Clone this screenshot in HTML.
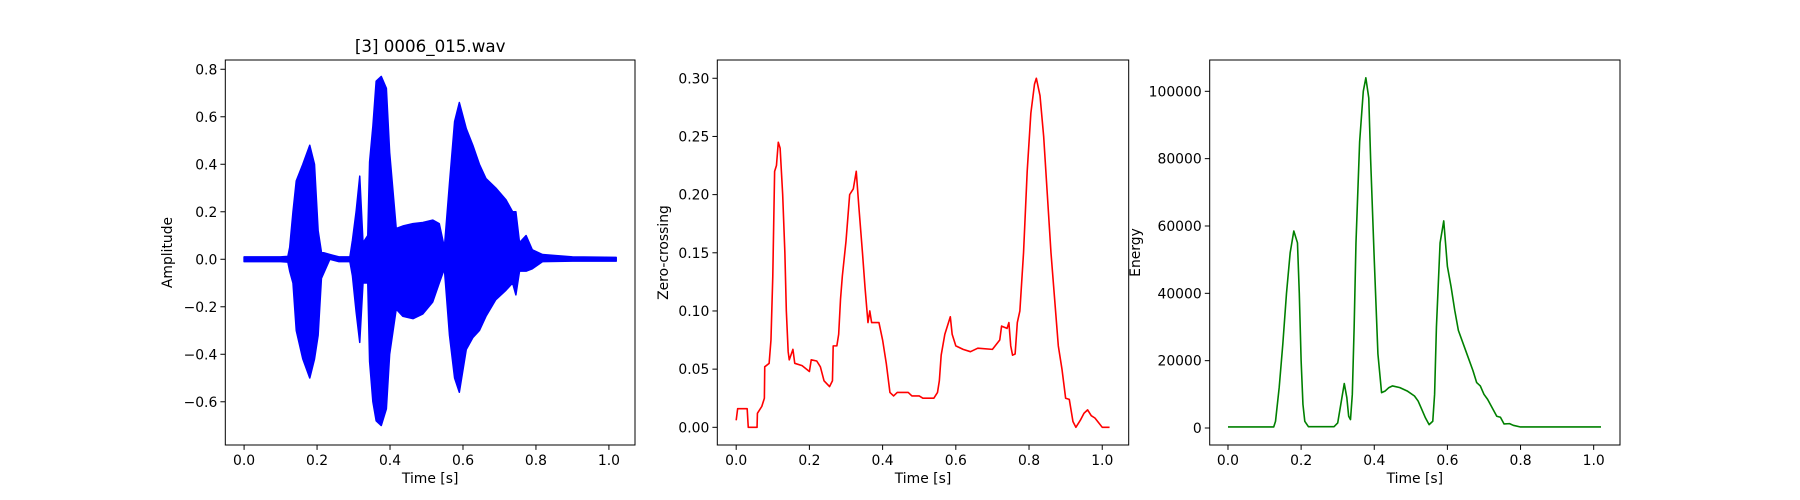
<!DOCTYPE html>
<html><head><meta charset="utf-8"><style>
html,body{margin:0;padding:0;background:#fff;}
svg{display:block;font-family:"DejaVu Sans","Liberation Sans",sans-serif;}
</style></head><body>
<svg id="fig" width="1800" height="500" xmlns="http://www.w3.org/2000/svg"></svg>
<script>
// Waveform envelope
const waveT = [0,0.05,0.1,0.12,0.125,0.134,0.143,0.161,0.18,0.193,0.203,0.212,0.235,0.26,0.29,0.297,0.307,0.317,0.326,0.339,0.344,0.353,0.362,0.376,0.39,0.399,0.417,0.435,0.463,0.49,0.517,0.535,0.549,0.563,0.577,0.59,0.609,0.627,0.645,0.663,0.69,0.718,0.736,0.745,0.755,0.773,0.79,0.818,0.9,1.02];
const waveUpper = [0.01,0.01,0.01,0.012,0.05,0.2,0.33,0.4,0.48,0.4,0.12,0.03,0.02,0.01,0.01,0.08,0.2,0.35,0.07,0.1,0.41,0.56,0.75,0.77,0.72,0.45,0.13,0.14,0.15,0.155,0.165,0.15,0.05,0.32,0.58,0.66,0.55,0.48,0.4,0.34,0.3,0.25,0.2,0.2,0.07,0.1,0.04,0.02,0.01,0.008];
const waveLower = [-0.01,-0.01,-0.01,-0.012,-0.05,-0.1,-0.3,-0.42,-0.5,-0.42,-0.32,-0.08,0.0,-0.01,-0.01,-0.07,-0.22,-0.35,-0.1,-0.1,-0.43,-0.6,-0.68,-0.7,-0.63,-0.4,-0.21,-0.24,-0.25,-0.23,-0.18,-0.1,-0.04,-0.32,-0.5,-0.56,-0.38,-0.33,-0.3,-0.24,-0.17,-0.13,-0.1,-0.15,-0.05,-0.05,-0.04,-0.01,-0.008,-0.008];
// Zero crossing
const zcrT = [0,0.004,0.03,0.033,0.057,0.058,0.07,0.077,0.078,0.09,0.095,0.1,0.105,0.11,0.115,0.12,0.127,0.133,0.137,0.142,0.145,0.155,0.16,0.18,0.2,0.205,0.22,0.23,0.24,0.255,0.263,0.265,0.275,0.28,0.285,0.29,0.3,0.31,0.32,0.328,0.335,0.345,0.352,0.36,0.365,0.37,0.39,0.4,0.41,0.42,0.43,0.44,0.47,0.48,0.5,0.51,0.54,0.55,0.555,0.56,0.57,0.585,0.59,0.6,0.62,0.64,0.66,0.7,0.72,0.725,0.74,0.745,0.75,0.755,0.762,0.768,0.775,0.785,0.795,0.805,0.815,0.82,0.83,0.84,0.85,0.86,0.87,0.88,0.89,0.9,0.91,0.92,0.928,0.94,0.95,0.96,0.97,0.98,0.99,1.0,1.02];
const zcrV = [0.006,0.016,0.016,0,0,0.012,0.018,0.025,0.052,0.055,0.075,0.13,0.22,0.225,0.245,0.24,0.2,0.15,0.1,0.065,0.058,0.067,0.055,0.053,0.048,0.058,0.057,0.052,0.04,0.035,0.04,0.07,0.07,0.08,0.11,0.13,0.16,0.2,0.205,0.22,0.19,0.15,0.12,0.09,0.1,0.09,0.09,0.075,0.055,0.03,0.027,0.03,0.03,0.027,0.027,0.025,0.025,0.03,0.04,0.062,0.08,0.095,0.08,0.07,0.067,0.065,0.068,0.067,0.075,0.087,0.085,0.09,0.07,0.062,0.063,0.09,0.1,0.15,0.22,0.27,0.295,0.3,0.285,0.25,0.2,0.15,0.11,0.07,0.05,0.025,0.024,0.005,0,0.006,0.012,0.015,0.01,0.008,0.004,0,0];
// Energy
const enT = [0,0.125,0.13,0.14,0.15,0.16,0.17,0.18,0.19,0.195,0.2,0.205,0.21,0.22,0.29,0.3,0.31,0.318,0.325,0.33,0.335,0.34,0.345,0.35,0.36,0.37,0.377,0.385,0.39,0.4,0.41,0.42,0.43,0.44,0.45,0.47,0.49,0.51,0.52,0.53,0.54,0.55,0.56,0.565,0.57,0.58,0.59,0.6,0.61,0.62,0.63,0.65,0.67,0.68,0.69,0.7,0.71,0.72,0.735,0.745,0.755,0.77,0.78,0.8,1.02];
const enV = [300,300,2000,12000,25000,40000,52000,58500,55000,40000,20000,7000,2000,400,400,1500,8000,13200,9000,3500,2500,10000,30000,55000,85000,100000,104000,98000,80000,50000,22000,10500,11000,12000,12500,12000,11000,9500,8000,5500,3000,1000,2000,10000,30000,55000,61500,48000,42000,35000,29000,23000,17000,13500,12500,10000,8500,6500,3500,3200,1200,1300,800,300,300];
const xTicks = [0,0.2,0.4,0.6,0.8,1.0];
const xTickLabels = ["0.0","0.2","0.4","0.6","0.8","1.0"];
const y1Ticks = [-0.6,-0.4,-0.2,0,0.2,0.4,0.6,0.8];
const y1Labels = ["\u22120.6","\u22120.4","\u22120.2","0.0","0.2","0.4","0.6","0.8"];
const y2Ticks = [0,0.05,0.1,0.15,0.2,0.25,0.3];
const y2Labels = ["0.00","0.05","0.10","0.15","0.20","0.25","0.30"];
const y3Ticks = [0,20000,40000,60000,80000,100000];
const y3Labels = ["0","20000","40000","60000","80000","100000"];

const NS="http://www.w3.org/2000/svg";
const svg=document.getElementById('fig');
function mk(tag,attrs,parent){const e=document.createElementNS(NS,tag);for(const k in attrs)e.setAttribute(k,attrs[k]);(parent||svg).appendChild(e);return e;}
function makeAxis(x0,x1,y0,y1,xmin,xmax,ymin,ymax){
  return {x0,x1,y0,y1,sx:v=>x0+(v-xmin)/(xmax-xmin)*(x1-x0),sy:v=>y1-(v-ymin)/(ymax-ymin)*(y1-y0)};
}
function drawFrame(ax,name,yT,yL,ylabel,ylabelX){
  const g=mk('g',{});
  
  
  xTicks.forEach((t,i)=>{const x=ax.sx(t);
    const l=mk('line',{x1:x,x2:x,y1:ax.y1,y2:ax.y1+4.9,stroke:'#000','stroke-width':1},g);
    
    
    const tx=mk('text',{x:x,y:ax.y1+20,'text-anchor':'middle','font-size':13.9,fill:'#000'},g);tx.textContent=xTickLabels[i];
    
    
  });
  yT.forEach((t,i)=>{const y=ax.sy(t);
    const l=mk('line',{x1:ax.x0-4.9,x2:ax.x0,y1:y,y2:y,stroke:'#000','stroke-width':1},g);
    
    
    const tx=mk('text',{x:ax.x0-8,y:y+5,'text-anchor':'end','font-size':13.9,fill:'#000'},g);tx.textContent=yL[i];
    
    
  });
  const xl=mk('text',{x:(ax.x0+ax.x1)/2,y:ax.y1+38,'text-anchor':'middle','font-size':13.9,fill:'#000'},g);xl.textContent='Time [s]';
  
  
  const cy=(ax.y0+ax.y1)/2;
  const yl=mk('text',{x:ylabelX,y:cy,'text-anchor':'middle','font-size':13.9,fill:'#000',transform:`rotate(-90 ${ylabelX} ${cy})`},g);yl.textContent=ylabel;
  
  
  return g;
}
function drawBorder(ax,g){
  const r=mk('rect',{x:ax.x0,y:ax.y0,width:ax.x1-ax.x0,height:ax.y1-ax.y0,fill:'none',stroke:'#000','stroke-width':1},g);
  
  
}
// Axis 1
const a1=makeAxis(225.3,635,60,445,-0.0515,1.0715,-0.782,0.839);
const g1=drawFrame(a1,'waveform-panel',y1Ticks,y1Labels,'Amplitude',172);
let pts=waveT.map((t,i)=>a1.sx(t)+','+a1.sy(waveUpper[i]));
for(let i=waveT.length-1;i>=0;i--)pts.push(a1.sx(waveT[i])+','+a1.sy(waveLower[i]));
const wp=mk('polygon',{points:pts.join(' '),fill:'#0000ff',stroke:'#0000ff','stroke-width':1.5,'stroke-linejoin':'round'},g1);


drawBorder(a1,g1);
const ttl=mk('text',{x:(a1.x0+a1.x1)/2,y:52,'text-anchor':'middle','font-size':16.7,fill:'#000'});ttl.textContent='[3] 0006_015.wav';


// Axis 2
const a2=makeAxis(717.3,1128.7,60,445,-0.0516,1.0723,-0.0152,0.3157);
const g2=drawFrame(a2,'zero-crossing-panel',y2Ticks,y2Labels,'Zero-crossing',668);
const zl=mk('polyline',{points:zcrT.map((t,i)=>a2.sx(t)+','+a2.sy(zcrV[i])).join(' '),fill:'none',stroke:'#ff0000','stroke-width':1.6,'stroke-linejoin':'round'},g2);


drawBorder(a2,g2);
// Axis 3
const a3=makeAxis(1209.7,1620,60,445,-0.05,1.072,-5050,109300);
const g3=drawFrame(a3,'energy-panel',y3Ticks,y3Labels,'Energy',1140);
const el=mk('polyline',{points:enT.map((t,i)=>a3.sx(t)+','+a3.sy(enV[i])).join(' '),fill:'none',stroke:'#008000','stroke-width':1.6,'stroke-linejoin':'round'},g3);


drawBorder(a3,g3);
</script>
</body></html>
